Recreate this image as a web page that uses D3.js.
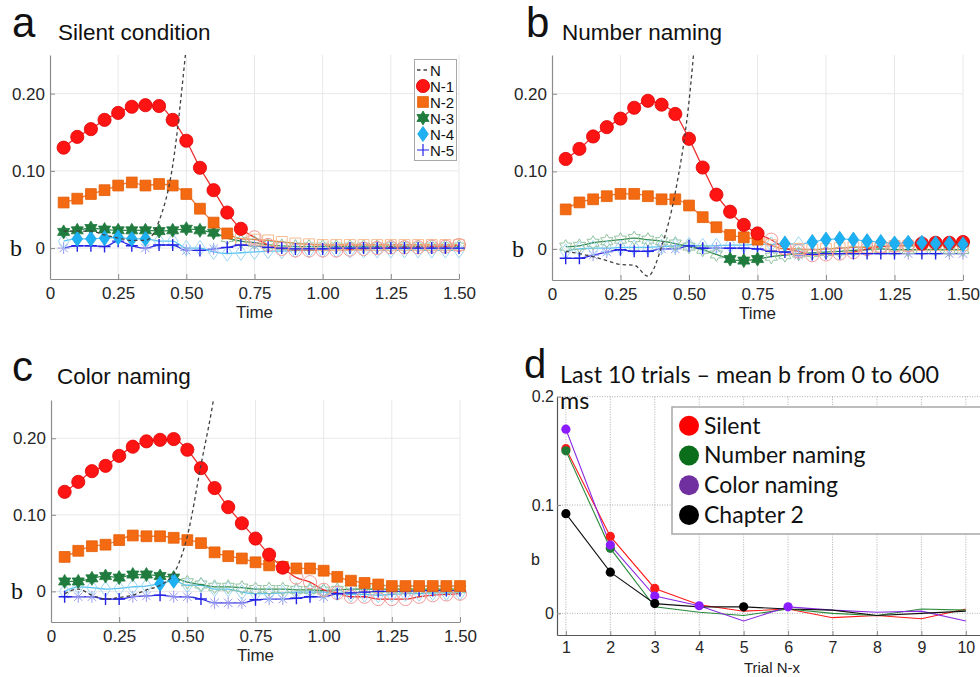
<!DOCTYPE html>
<html>
<head>
<meta charset="utf-8">
<script src="https://cdn.jsdelivr.net/npm/d3@7"></script>
<style>
  html, body { margin: 0; padding: 0; background: #fff; }
  svg { display: block; }
</style>
</head>
<body>
<svg id="fig" width="980" height="677"></svg>
<script>
// ---------- shared categories / ticks ----------
const times = [0.05,0.10,0.15,0.20,0.25,0.30,0.35,0.40,0.45,0.50,0.55,0.60,0.65,0.70,0.75,
               0.80,0.85,0.90,0.95,1.00,1.05,1.10,1.15,1.20,1.25,1.30,1.35,1.40,1.45,1.50];
const timeTicks = [0, 0.25, 0.50, 0.75, 1.00, 1.25, 1.50];
const timeTickLabels = ["0", "0.25", "0.50", "0.75", "1.00", "1.25", "1.50"];
const bTicks = [0, 0.10, 0.20];
const bTickLabels = ["0", "0.10", "0.20"];
const lagNames = ["N", "N-1", "N-2", "N-3", "N-4", "N-5"];

// ---------- a: Silent condition ----------
const silentN  = [0.022,0.022,0.022,0.017,0.013,0.010,0.010,0.035,0.107,0.262,0.450];
const silentN1 = [0.130,0.144,0.154,0.166,0.175,0.183,0.185,0.184,0.166,0.139,0.104,0.075,0.046,0.025,0.014,
                  0.004,-0.001,-0.003,-0.003,-0.003,-0.003,-0.002,-0.001,0.000,0.001,0.001,0.001,0.002,0.002,0.004];
const silentN2 = [0.059,0.064,0.070,0.075,0.081,0.085,0.081,0.083,0.081,0.070,0.051,0.033,0.019,0.012,0.011,
                  0.010,0.008,0.006,0.005,0.004,0.004,0.004,0.004,0.004,0.004,0.004,0.004,0.004,0.004,0.004];
const silentN3 = [0.021,0.023,0.026,0.024,0.023,0.023,0.023,0.022,0.023,0.025,0.023,0.020,0.013,0.009,0.007,
                  0.004,0.003,0.002,0.002,0.002,0.002,0.002,0.002,0.002,0.002,0.002,0.002,0.002,0.002,0.002];
const silentN4 = [0.009,0.012,0.012,0.013,0.014,0.012,0.012,0.009,0.009,0.000,0.000,-0.005,-0.007,-0.006,-0.005,
                  -0.004,-0.004,-0.003,-0.003,-0.003,-0.003,-0.003,-0.003,-0.003,-0.003,-0.003,-0.003,-0.003,-0.003,-0.003];
const silentN5 = [0.000,0.003,0.003,0.002,0.009,0.003,0.000,0.004,0.004,-0.003,-0.003,-0.001,0.001,0.004,0.003,
                  0.001,0.000,-0.001,-0.001,-0.001,0.000,0.000,0.000,0.000,0.000,0.000,0.000,0.000,0.000,0.000];
const silentSig1 = [1,1,1,1,1,1,1,1,1,1,1,1,1,1,0,0,0,0,0,0,0,0,0,0,0,0,0,0,0,0];
const silentSig2 = [1,1,1,1,1,1,1,1,1,1,1,1,1,0,0,0,0,0,0,0,0,0,0,0,0,0,0,0,0,0];
const silentSig3 = [1,1,1,1,1,1,1,1,1,1,1,1,0,0,0,0,0,0,0,0,0,0,0,0,0,0,0,0,0,0];
const silentSig4 = [0,1,1,1,1,1,1,0,0,0,0,0,0,0,0,0,0,0,0,0,0,0,0,0,0,0,0,0,0,0];
const silentSig5 = [0,1,1,1,1,1,0,1,1,0,1,0,1,1,0,1,1,1,1,1,1,1,1,1,1,1,1,1,1,1];

// ---------- b: Number naming ----------
const numberN  = [-0.003,-0.006,-0.010,-0.015,-0.020,-0.021,-0.035,0.003,0.073,0.190,0.400];
const numberN1 = [0.116,0.129,0.145,0.157,0.168,0.182,0.191,0.186,0.174,0.142,0.105,0.070,0.048,0.031,0.020,
                  0.012,0.001,-0.003,-0.008,-0.007,-0.006,-0.004,0.000,0.003,0.004,0.005,0.007,0.008,0.008,0.009];
const numberN2 = [0.051,0.060,0.064,0.068,0.071,0.071,0.068,0.064,0.064,0.056,0.041,0.028,0.018,0.015,0.012,
                  0.005,0.000,0.000,-0.001,0.000,0.001,0.002,0.002,0.003,0.004,0.004,0.005,0.005,0.005,0.005];
const numberN3 = [0.003,0.004,0.008,0.010,0.012,0.014,0.012,0.010,0.007,0.003,-0.001,-0.007,-0.013,-0.015,-0.013,
                  -0.010,-0.008,-0.006,-0.005,-0.004,-0.003,-0.002,-0.001,0.000,-0.001,-0.001,-0.001,-0.001,-0.001,-0.001];
const numberN4 = [-0.003,0.000,0.001,0.001,0.002,0.002,0.002,0.003,0.004,0.005,0.004,0.004,0.005,0.005,0.006,
                  0.006,0.007,0.006,0.009,0.012,0.013,0.012,0.010,0.009,0.007,0.008,0.008,0.007,0.007,0.006];
const numberN5 = [-0.012,-0.012,-0.008,-0.004,-0.001,-0.003,-0.003,0.000,0.000,0.004,0.001,0.001,0.001,0.001,0.000,
                  -0.003,-0.004,-0.008,-0.007,-0.006,-0.006,-0.006,-0.006,-0.006,-0.006,-0.006,-0.006,-0.006,-0.006,-0.006];
const numberSig1 = [1,1,1,1,1,1,1,1,1,1,1,1,1,1,1,0,0,0,0,0,0,0,0,0,0,0,1,1,1,1];
const numberSig2 = [1,1,1,1,1,1,1,1,1,1,1,1,1,1,1,0,0,0,0,0,0,0,0,0,0,0,0,0,0,0];
const numberSig3 = [0,0,0,0,0,0,0,0,0,0,0,0,1,1,1,0,0,0,0,0,0,0,0,0,0,0,0,0,0,0];
const numberSig4 = [0,0,0,0,0,0,0,0,0,0,0,0,0,0,0,0,1,0,1,1,1,1,1,1,1,1,1,1,1,1];
const numberSig5 = [1,1,0,0,1,1,1,0,0,1,1,0,1,1,1,1,1,0,1,1,1,1,1,1,1,0,1,1,0,0];

// ---------- c: Color naming ----------
const colorN  = [-0.003,0.003,-0.005,-0.010,-0.008,-0.005,0.002,0.008,0.023,0.072,0.165,0.260,0.400];
const colorN1 = [0.130,0.143,0.157,0.164,0.177,0.189,0.196,0.198,0.199,0.185,0.161,0.135,0.110,0.089,0.069,
                 0.048,0.031,0.018,0.012,0.002,-0.002,-0.007,-0.007,-0.010,-0.010,-0.010,-0.007,-0.005,-0.004,-0.003];
const colorN2 = [0.045,0.053,0.059,0.061,0.067,0.073,0.072,0.072,0.070,0.067,0.063,0.051,0.046,0.043,0.038,
                 0.034,0.032,0.030,0.030,0.027,0.019,0.014,0.011,0.009,0.007,0.007,0.007,0.007,0.007,0.007];
const colorN3 = [0.013,0.013,0.017,0.020,0.018,0.022,0.022,0.020,0.018,0.012,0.009,0.006,0.006,0.005,0.003,
                 0.003,0.003,0.002,0.002,0.001,0.002,0.003,0.003,0.003,0.003,0.003,0.003,0.003,0.003,0.003];
const colorN4 = [0.000,0.006,0.005,0.003,0.004,0.006,0.007,0.010,0.014,0.008,0.008,0.003,0.003,-0.001,-0.003,
                 -0.003,-0.002,-0.001,-0.001,-0.001,-0.002,-0.004,-0.004,-0.005,-0.004,-0.003,-0.003,-0.002,-0.002,-0.002];
const colorN5 = [-0.007,-0.007,-0.007,-0.010,-0.010,-0.007,-0.006,-0.005,-0.007,-0.007,-0.010,-0.015,-0.015,-0.015,-0.011,
                 -0.010,-0.010,-0.009,-0.007,-0.007,-0.003,-0.002,-0.001,0.000,0.000,0.000,0.001,0.001,0.001,0.001];
const colorSig1 = [1,1,1,1,1,1,1,1,1,1,1,1,1,1,1,1,1,0,0,0,0,0,0,0,0,0,0,0,0,0];
const colorSig2 = [1,1,1,1,1,1,1,1,1,1,1,1,1,1,1,1,1,1,1,1,1,1,1,1,1,1,1,1,1,1];
const colorSig3 = [1,1,1,1,1,1,1,1,1,0,0,0,0,0,0,0,0,0,0,0,0,0,0,0,0,0,0,0,0,0];
const colorSig4 = [0,0,0,0,0,0,0,1,1,0,0,0,0,0,0,0,0,0,0,0,0,0,0,0,0,0,0,0,0,0];
const colorSig5 = [1,0,0,1,1,0,0,1,0,0,1,0,0,0,1,0,0,1,1,0,1,1,1,1,1,1,1,1,1,1];

// ---------- d: last 10 trials ----------
const trials = [1,2,3,4,5,6,7,8,9,10];
const trialTicks = [1,2,3,4,5,6,7,8,9,10];
const dYTicks = [0, 0.1, 0.2];
const dYTickLabels = ["0", "0.1", "0.2"];
const condNames = ["Silent", "Number naming", "Color naming", "Chapter 2"];
const meanSilent   = [0.152,0.071,0.023,0.008,0.002,0.004,-0.004,-0.002,-0.005,0.004];
const meanNumber   = [0.150,0.060,0.006,0.001,-0.002,0.004,0.000,-0.002,0.004,0.003];
const meanColor    = [0.170,0.063,0.016,0.007,-0.007,0.006,0.003,0.001,0.002,-0.007];
const meanChapter2 = [0.092,0.038,0.009,0.006,0.006,0.004,0.003,-0.002,0.000,0.002];
const markSilent   = [1,1,1,0,0,0,0,0,0,0];
const markNumber   = [1,1,0,0,0,0,0,0,0,0];
const markColor    = [1,1,1,1,0,1,0,0,0,0];
const markChapter2 = [1,1,1,0,1,0,0,0,0,0];

// ---------- marker shapes (size = radius in px) ----------
const shapes = {
  circle: { draw(c, r) { c.moveTo(r, 0); c.arc(0, 0, r, 0, 2 * Math.PI); } },
  square: { draw(c, r) { c.rect(-r, -r, 2 * r, 2 * r); } },
  hexagram: { draw(c, r) {
    for (let k = 0; k < 12; k++) {
      const a = -Math.PI / 2 + k * Math.PI / 6, rr = k % 2 ? r * 0.58 : r;
      const px = rr * Math.cos(a), py = rr * Math.sin(a);
      if (k) c.lineTo(px, py); else c.moveTo(px, py);
    }
    c.closePath();
  } },
  diamond: { draw(c, r) { c.moveTo(0, -r); c.lineTo(r * 0.7, 0); c.lineTo(0, r); c.lineTo(-r * 0.7, 0); c.closePath(); } },
  plus: { draw(c, r) { c.moveTo(-r, 0); c.lineTo(r, 0); c.moveTo(0, -r); c.lineTo(0, r); } },
  asterisk: { draw(c, r) {
    c.moveTo(-r, 0); c.lineTo(r, 0); c.moveTo(0, -r); c.lineTo(0, r);
    const q = r * 0.7;
    c.moveTo(-q, -q); c.lineTo(q, q); c.moveTo(-q, q); c.lineTo(q, -q);
  } }
};

// Appearance of each lag series N-1 .. N-5
const lagStyle = [
  { shape: "circle",   r: 6.6, fill: "#ff1414", stroke: "#e00000", faint: "#f29a9a", faintShape: "circle",   line: "#ee2d2d" },
  { shape: "square",   r: 5.4, fill: "#f46a12", stroke: "#e35d06", faint: "#f6bb90", faintShape: "square",   line: "#f07a30" },
  { shape: "hexagram", r: 7.0, fill: "#1f7b3e", stroke: "#1f7b3e", faint: "#93c3a1", faintShape: "hexagram", line: "#2f8a4c" },
  { shape: "diamond",  r: 7.6, fill: "#1db1f4", stroke: "#1ca6e6", faint: "#9dd7f4", faintShape: "diamond",  line: "#55c2f0" },
  { shape: "plus",     r: 6.0, fill: "none",    stroke: "#2323e8", faint: "#9898f0", faintShape: "asterisk", line: "#2d2de0" }
];

const svg = d3.select("#fig");
const SANS = "'Liberation Sans', Arial, Helvetica, sans-serif";
const SERIF = "'Liberation Serif', 'Times New Roman', serif";
const sym = (name, r) => d3.symbol().type(shapes[name]).size(r)();

function styleAxis(g, size) {
  g.attr("font-family", SANS).attr("font-size", size);
  g.select(".domain").attr("stroke", "#8c8c8c").attr("stroke-width", 1.2);
  g.selectAll(".tick line").attr("stroke", "#8c8c8c");
  g.selectAll(".tick text").attr("fill", "#262626");
}

function timePanel(p) {
  const g = svg.append("g");
  const x = d3.scaleLinear().domain([0, 1.5]).range([p.left, p.right]);
  const y = d3.scaleLinear().domain([-0.04, 0.25]).range([p.bottom, p.top]);

  // grid
  g.append("g").selectAll("line").data(timeTicks.slice(1)).join("line")
    .attr("x1", d => x(d)).attr("x2", d => x(d)).attr("y1", p.top).attr("y2", p.bottom)
    .attr("stroke", "#e8e8e8");
  g.append("g").selectAll("line").data(bTicks).join("line")
    .attr("x1", p.left).attr("x2", p.right).attr("y1", d => y(d)).attr("y2", d => y(d))
    .attr("stroke", "#e8e8e8");

  // axes
  const xa = g.append("g").attr("transform", `translate(0,${p.bottom})`)
    .call(d3.axisBottom(x).tickValues(timeTicks).tickFormat((d, i) => timeTickLabels[i])
      .tickSizeInner(-5).tickSizeOuter(0).tickPadding(8));
  styleAxis(xa, 17);
  const ya = g.append("g").attr("transform", `translate(${p.left},0)`)
    .call(d3.axisLeft(y).tickValues(bTicks).tickFormat((d, i) => bTickLabels[i])
      .tickSizeInner(-5).tickSizeOuter(0).tickPadding(5));
  styleAxis(ya, 17);

  g.append("text").attr("x", (p.left + p.right) / 2).attr("y", p.bottom + 39)
    .attr("text-anchor", "middle").attr("font-family", SANS).attr("font-size", 17)
    .attr("fill", "#262626").text("Time");
  g.append("text").attr("x", p.left - 40).attr("y", y(0) + 8)
    .attr("font-family", SERIF).attr("font-size", 24).attr("fill", "#111").text("b");

  // titles
  g.append("text").attr("x", p.letterX).attr("y", p.titleY - 3)
    .attr("font-family", SANS).attr("font-size", 42).attr("fill", "#111").text(p.letter);
  g.append("text").attr("x", p.titleX).attr("y", p.titleY)
    .attr("font-family", SANS).attr("font-size", 22.5).attr("fill", "#111").text(p.title);

  const line = d3.line().defined(d => d[1] != null)
    .x(d => x(d[0])).y(d => y(d[1])).curve(d3.curveMonotoneX);

  // series lines
  const lineOrder = [4, 3, 2, 1, 0];
  lineOrder.forEach(k => {
    const vals = p.series[k].values;
    g.append("path").datum(times.map((t, i) => [t, vals[i]]))
      .attr("d", line).attr("fill", "none")
      .attr("stroke", lagStyle[k].line).attr("stroke-width", 1.3);
  });

  // non-significant (faint) markers
  lineOrder.forEach(k => {
    const s = lagStyle[k], ser = p.series[k];
    g.append("g").selectAll("path")
      .data(times.map((t, i) => ({ t, v: ser.values[i], sig: ser.sig[i] })).filter(d => !d.sig))
      .join("path")
      .attr("transform", d => `translate(${x(d.t)},${y(d.v)})`)
      .attr("d", sym(s.faintShape, s.r))
      .attr("fill", "none").attr("stroke", s.faint).attr("stroke-width", 1);
  });

  // significant (filled) markers
  const markOrder = [4, 2, 1, 0, 3];
  markOrder.forEach(k => {
    const s = lagStyle[k], ser = p.series[k];
    g.append("g").selectAll("path")
      .data(times.map((t, i) => ({ t, v: ser.values[i], sig: ser.sig[i] })).filter(d => d.sig))
      .join("path")
      .attr("transform", d => `translate(${x(d.t)},${y(d.v)})`)
      .attr("d", sym(s.shape, s.r))
      .attr("fill", s.fill).attr("stroke", s.stroke)
      .attr("stroke-width", s.shape === "plus" ? 1.4 : 0.8);
  });

  // trial N (dashed, clipped to plot)
  const clipId = "clip-" + p.letter;
  svg.append("clipPath").attr("id", clipId).append("rect")
    .attr("x", p.left).attr("y", p.top).attr("width", p.right - p.left).attr("height", p.bottom - p.top);
  g.append("path").datum(p.nValues.map((v, i) => [times[i], v]))
    .attr("clip-path", `url(#${clipId})`)
    .attr("d", line).attr("fill", "none")
    .attr("stroke", "#404040").attr("stroke-width", 1.3).attr("stroke-dasharray", "3.5,3");

  return { g, x, y };
}

timePanel({
  letter: "a", title: "Silent condition", letterX: 12, titleX: 58, titleY: 40,
  left: 50, right: 459, top: 55, bottom: 279,
  nValues: silentN,
  series: [
    { values: silentN1, sig: silentSig1 }, { values: silentN2, sig: silentSig2 },
    { values: silentN3, sig: silentSig3 }, { values: silentN4, sig: silentSig4 },
    { values: silentN5, sig: silentSig5 }
  ]
});
timePanel({
  letter: "b", title: "Number naming", letterX: 526, titleX: 562, titleY: 40,
  left: 552, right: 963, top: 55, bottom: 280,
  nValues: numberN,
  series: [
    { values: numberN1, sig: numberSig1 }, { values: numberN2, sig: numberSig2 },
    { values: numberN3, sig: numberSig3 }, { values: numberN4, sig: numberSig4 },
    { values: numberN5, sig: numberSig5 }
  ]
});
timePanel({
  letter: "c", title: "Color naming", letterX: 12, titleX: 57, titleY: 384,
  left: 51, right: 460, top: 400, bottom: 622,
  nValues: colorN,
  series: [
    { values: colorN1, sig: colorSig1 }, { values: colorN2, sig: colorSig2 },
    { values: colorN3, sig: colorSig3 }, { values: colorN4, sig: colorSig4 },
    { values: colorN5, sig: colorSig5 }
  ]
});

// legend for panel a
{
  const lg = svg.append("g").attr("font-family", SANS).attr("font-size", 15).attr("fill", "#111");
  lg.append("rect").attr("x", 414.5).attr("y", 59.5).attr("width", 42).attr("height", 101)
    .attr("fill", "#fff").attr("stroke", "#a8a8a8");
  const ly = d3.scaleLinear().domain([0, 5]).range([70, 150]);
  lagNames.forEach((name, i) => {
    const cy = ly(i);
    if (i === 0) {
      lg.append("line").attr("x1", 417).attr("x2", 428).attr("y1", cy).attr("y2", cy)
        .attr("stroke", "#404040").attr("stroke-width", 1.3).attr("stroke-dasharray", "3.5,3");
    } else {
      const s = lagStyle[i - 1];
      lg.append("path").attr("transform", `translate(423,${cy})`)
        .attr("d", sym(s.shape, s.r))
        .attr("fill", s.fill).attr("stroke", s.stroke)
        .attr("stroke-width", s.shape === "plus" ? 1.2 : 0.8);
    }
    lg.append("text").attr("x", 430).attr("y", cy + 5.5).text(name);
  });
}

// ---------- panel d ----------
{
  const g = svg.append("g");
  const left = 557, bottom = 635, top = 396.7;
  const x = d3.scaleLinear().domain([0.8, 10.5]).range([left, left + 9.7 * 44.44]);
  const y = d3.scaleLinear().domain([-0.02, 0.2]).range([bottom, top]);

  g.append("g").selectAll("line").data(trialTicks).join("line")
    .attr("x1", d => x(d)).attr("x2", d => x(d)).attr("y1", top).attr("y2", bottom)
    .attr("stroke", "#9a9a9a").attr("stroke-width", 0.8).attr("stroke-dasharray", "1,1.5");
  g.append("g").selectAll("line").data(dYTicks).join("line")
    .attr("x1", left).attr("x2", 980).attr("y1", d => y(d)).attr("y2", d => y(d))
    .attr("stroke", "#9a9a9a").attr("stroke-width", 0.8).attr("stroke-dasharray", "1,1.5");

  const xa = g.append("g").attr("transform", `translate(0,${bottom})`)
    .call(d3.axisBottom(x).tickValues(trialTicks).tickFormat(d3.format("d"))
      .tickSizeInner(-4).tickSizeOuter(0).tickPadding(7));
  styleAxis(xa, 16);
  const ya = g.append("g").attr("transform", `translate(${left},0)`)
    .call(d3.axisLeft(y).tickValues(dYTicks).tickFormat((d, i) => dYTickLabels[i])
      .tickSizeInner(-4).tickSizeOuter(0).tickPadding(3));
  styleAxis(ya, 16);
  g.selectAll(".domain").attr("stroke", "#555");

  g.append("text").attr("x", 772).attr("y", 673).attr("text-anchor", "middle")
    .attr("font-family", SANS).attr("font-size", 15).attr("fill", "#222").text("Trial N-x");
  g.append("text").attr("x", 531).attr("y", 565)
    .attr("font-family", SANS).attr("font-size", 16).attr("fill", "#222").text("b");

  const conds = [
    { vals: meanSilent,   marks: markSilent,   line: "#ff1a1a", mark: "#ff1a1a" },
    { vals: meanNumber,   marks: markNumber,   line: "#2a8a3a", mark: "#1f7a34" },
    { vals: meanColor,    marks: markColor,    line: "#8a2be2", mark: "#8a1cff" },
    { vals: meanChapter2, marks: markChapter2, line: "#111111", mark: "#000000" }
  ];
  const line = d3.line().x((d, i) => x(trials[i])).y(d => y(d));
  conds.forEach(c => {
    g.append("path").datum(c.vals).attr("d", line).attr("fill", "none")
      .attr("stroke", c.line).attr("stroke-width", 1.1);
  });
  conds.forEach(c => {
    g.append("g").selectAll("circle")
      .data(trials.map((t, i) => ({ t, v: c.vals[i], m: c.marks[i] })).filter(d => d.m))
      .join("circle").attr("cx", d => x(d.t)).attr("cy", d => y(d.v)).attr("r", 4.6)
      .attr("fill", c.mark);
  });

  // legend
  const lg = g.append("g").attr("font-family", "Lato, 'Open Sans', sans-serif").attr("font-size", 23).attr("fill", "#111");
  lg.append("rect").attr("x", 672).attr("y", 407).attr("width", 340).attr("height", 127)
    .attr("fill", "#fff").attr("stroke", "#a8a8a8").attr("stroke-width", 1.5);
  const legendColors = ["#ff0000", "#0b6e1a", "#7030a0", "#000000"];
  const ly = d3.scaleLinear().domain([0, 3]).range([425.7, 515]);
  condNames.forEach((name, i) => {
    lg.append("circle").attr("cx", 689).attr("cy", ly(i)).attr("r", 10).attr("fill", legendColors[i]);
    lg.append("text").attr("x", 704).attr("y", ly(i) + 8).text(name);
  });

  // title
  g.append("text").attr("x", 524).attr("y", 378)
    .attr("font-family", SANS).attr("font-size", 40).attr("fill", "#111").text("d");
  const tt = g.append("text").attr("font-family", "Lato, 'Open Sans', sans-serif")
    .attr("font-size", 23.3).attr("fill", "#111");
  tt.append("tspan").attr("x", 560).attr("y", 383).text("Last 10 trials \u2013 mean b from 0 to 600");
  tt.append("tspan").attr("x", 560).attr("y", 409).text("ms");
}
</script>
</body>
</html>
